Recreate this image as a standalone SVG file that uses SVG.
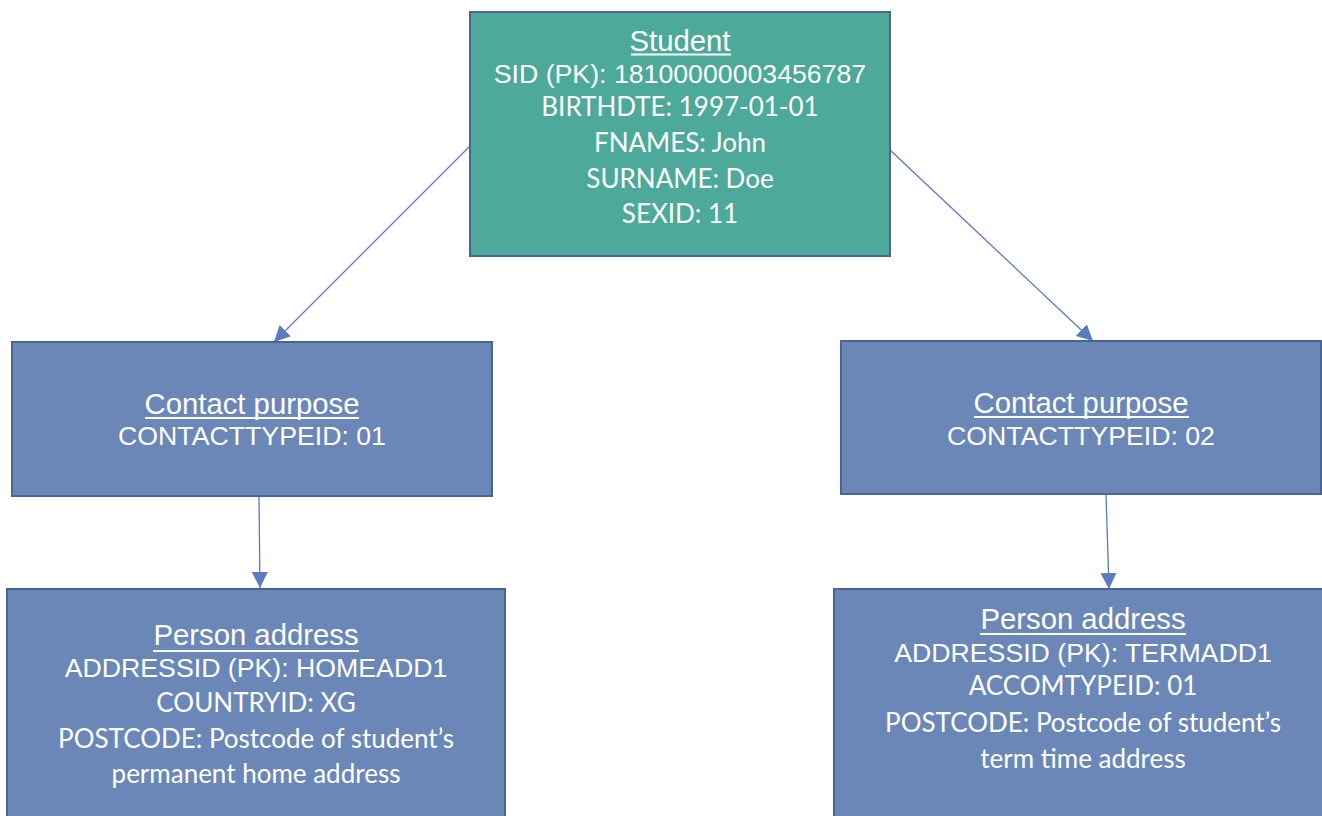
<svg xmlns="http://www.w3.org/2000/svg" width="1322" height="816" viewBox="0 0 1322 816">
<defs>
<style>
.student{fill:#4DA99A;stroke:#4B6592;stroke-width:2}
.entity{fill:#6A87B8;stroke:#4B6592;stroke-width:2}
.ar{font-family:"Liberation Sans",Arial,sans-serif;fill:#ffffff;text-anchor:middle}
.ca{font-family:Lato,"Open Sans",sans-serif;fill:#ffffff;text-anchor:middle}
.t{font-size:29.3px}
.a{font-size:26.7px}
.c{font-size:26px}
.ul{stroke:#ffffff;stroke-width:2}
.conn{stroke:#5B7BBE;stroke-width:1.3;fill:none;marker-end:url(#arrow)}
</style>
<marker id="arrow" viewBox="0 0 10 10" refX="10" refY="5" markerWidth="16" markerHeight="16" markerUnits="userSpaceOnUse" orient="auto">
<path d="M0,0 L10,5 L0,10 z" fill="#5B7BBE"/>
</marker>
</defs>
<rect width="1322" height="816" fill="#ffffff"/>
<g id="connectors">
<line class="conn" x1="470" y1="146" x2="274" y2="342"/>
<line class="conn" x1="890" y1="150" x2="1093" y2="341"/>
<line class="conn" x1="259" y1="496" x2="260" y2="588"/>
<line class="conn" x1="1106" y1="494" x2="1109" y2="589"/>
</g>
<g id="student">
<rect class="student" x="470" y="12" width="420" height="244"/>
<text class="ar t" x="680" y="51">Student</text>
<line class="ul" x1="631" y1="54.5" x2="731" y2="54.5"/>
<text class="ar a" x="680" y="83">SID (PK): 18100000003456787</text>
<text class="ca c" x="680" y="116">BIRTHDTE: 1997-01-01</text>
<text class="ca c" x="680" y="152">FNAMES: John</text>
<text class="ca c" x="680" y="188">SURNAME: Doe</text>
<text class="ca c" x="680" y="223">SEXID: 11</text>
</g>
<g id="contact-purpose-1">
<rect class="entity" x="12" y="342" width="480" height="154"/>
<text class="ar t" x="252" y="414">Contact purpose</text>
<line class="ul" x1="145" y1="418" x2="359" y2="418"/>
<text class="ar a" x="252" y="445">CONTACTTYPEID: 01</text>
</g>
<g id="contact-purpose-2">
<rect class="entity" x="841" y="341" width="480" height="153"/>
<text class="ar t" x="1081" y="413">Contact purpose</text>
<line class="ul" x1="974" y1="417" x2="1189" y2="417"/>
<text class="ar a" x="1081" y="445">CONTACTTYPEID: 02</text>
</g>
<g id="person-address-1">
<rect class="entity" x="7" y="589" width="498" height="240"/>
<text class="ar t" x="256" y="645">Person address</text>
<line class="ul" x1="153" y1="651" x2="359" y2="651"/>
<text class="ar a" x="256" y="677">ADDRESSID (PK): HOMEADD1</text>
<text class="ca c" x="256" y="712">COUNTRYID: XG</text>
<text class="ca c" x="256" y="748">POSTCODE: Postcode of student’s</text>
<text class="ca c" x="256" y="783">permanent home address</text>
</g>
<g id="person-address-2">
<rect class="entity" x="834" y="589" width="498" height="240"/>
<text class="ar t" x="1083" y="629">Person address</text>
<line class="ul" x1="980" y1="634" x2="1186" y2="634"/>
<text class="ar a" x="1083" y="662">ADDRESSID (PK): TERMADD1</text>
<text class="ca c" x="1083" y="695">ACCOMTYPEID: 01</text>
<text class="ca c" x="1083" y="732">POSTCODE: Postcode of student’s</text>
<text class="ca c" x="1083" y="768">term time address</text>
</g>
</svg>
